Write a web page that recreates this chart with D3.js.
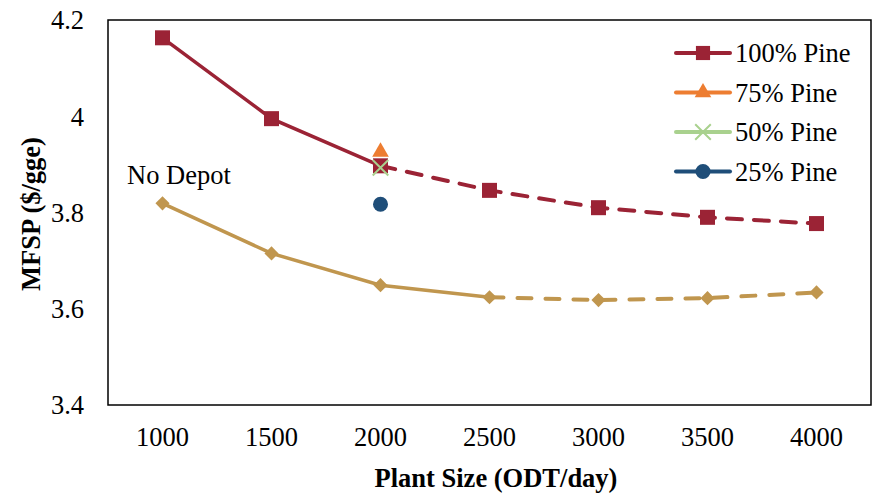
<!DOCTYPE html>
<html>
<head>
<meta charset="utf-8">
<script src="https://cdn.jsdelivr.net/npm/d3@7"></script>
<style>
  body { margin: 0; background: #fff; }
  text { font-family: "Liberation Serif", "Times New Roman", serif; fill: #000; }
</style>
</head>
<body>
<svg id="chart" width="873" height="496"></svg>
<script>
// plant sizes (ODT/day)
var sizes = ['1000', '1500', '2000', '2500', '3000', '3500', '4000']
var pine100 = [4.163, 3.995, 3.897, 3.846, 3.810, 3.790, 3.777]
var noDepot = [3.819, 3.715, 3.649, 3.624, 3.618, 3.622, 3.634]
// single blends at 2000 ODT/day
var pine75 = 3.926
var pine50 = 3.893
var pine25 = 3.817
var yTicks = [3.4, 3.6, 3.8, 4.0, 4.2]

var red = '#9b2335', gold = '#c0964e', orange = '#ed7d31', green = '#a9d18e', blue = '#1f4e79'
var fs = '26.5px'

var svg = d3.select('#chart')
var plotL = 108, plotR = 871, plotT = 20, plotB = 405

var x = d3.scaleBand().domain(sizes).range([plotL, plotR]).padding(0)
var y = d3.scaleLinear().domain([3.4, 4.2]).range([plotB, plotT])
var cx = function (s) { return x(s) + x.bandwidth() / 2 }

// frame
svg.append('rect')
  .attr('x', plotL).attr('y', plotT)
  .attr('width', plotR - plotL).attr('height', plotB - plotT)
  .attr('fill', 'none').attr('stroke', '#000').attr('stroke-width', 1.5)

// y ticks
svg.append('g').selectAll('text').data(yTicks).enter().append('text')
  .attr('x', 84).attr('y', function (d) { return y(d) })
  .attr('dy', '0.35em')
  .attr('text-anchor', 'end')
  .style('font-size', fs)
  .text(function (d) { return d === 4 ? '4' : d3.format('.1f')(d) })

// x ticks
svg.append('g').selectAll('text').data(sizes).enter().append('text')
  .attr('x', cx).attr('y', 446)
  .attr('text-anchor', 'middle')
  .style('font-size', fs)
  .text(function (d) { return d })

// axis titles
svg.append('text')
  .attr('transform', 'translate(40,214) rotate(-90)')
  .attr('text-anchor', 'middle')
  .style('font-size', fs).style('font-weight', 'bold')
  .text('MFSP ($/gge)')

svg.append('text')
  .attr('x', 496).attr('y', 487)
  .attr('text-anchor', 'middle')
  .style('font-size', fs).style('font-weight', 'bold')
  .text('Plant Size (ODT/day)')

var line = d3.line()
  .x(function (d) { return cx(d[0]) })
  .y(function (d) { return y(d[1]) })

function drawSeries(vals, color, solidTo, dash) {
  var pts = sizes.map(function (s, i) { return [s, vals[i]] })
  svg.append('path').datum(pts.slice(0, solidTo + 1))
    .attr('d', line).attr('fill', 'none')
    .attr('stroke', color).attr('stroke-width', 3.5)
  svg.append('path').datum(pts.slice(solidTo))
    .attr('d', line).attr('fill', 'none')
    .attr('stroke', color).attr('stroke-width', 4)
    .attr('stroke-dasharray', dash).attr('stroke-linecap', 'round')
  return pts
}

var redPts = drawSeries(pine100, red, 2, '15,12')
var goldPts = drawSeries(noDepot, gold, 3, '14,14')

// markers
svg.append('g').selectAll('path').data(goldPts).enter().append('path')
  .attr('d', d3.symbol().type(d3.symbolSquare).size(100))
  .attr('transform', function (d) { return 'translate(' + cx(d[0]) + ',' + y(d[1]) + ') rotate(45)' })
  .attr('fill', gold)

svg.append('g').selectAll('rect').data(redPts).enter().append('rect')
  .attr('x', function (d) { return cx(d[0]) - 7.5 })
  .attr('y', function (d) { return y(d[1]) - 7.5 })
  .attr('width', 15).attr('height', 15)
  .attr('fill', red)

svg.append('path')
  .attr('d', d3.symbol().type(d3.symbolTriangle).size(120))
  .attr('transform', 'translate(' + cx('2000') + ',' + y(pine75) + ')')
  .attr('fill', orange)

svg.append('path')
  .attr('d', d3.symbol().type(d3.symbolTimes).size(160))
  .attr('transform', 'translate(' + cx('2000') + ',' + y(pine50) + ')')
  .attr('stroke', green).attr('stroke-width', 2).attr('fill', 'none')

svg.append('circle')
  .attr('cx', cx('2000')).attr('cy', y(pine25)).attr('r', 7.5)
  .attr('fill', blue)

svg.append('text')
  .attr('x', 127).attr('y', 184)
  .style('font-size', fs)
  .text('No Depot')

// legend
var legend = [
  { name: '100% Pine', color: red, sym: d3.symbolSquare, size: 200 },
  { name: '75% Pine', color: orange, sym: d3.symbolTriangle, size: 120 },
  { name: '50% Pine', color: green, sym: d3.symbolTimes, size: 160 },
  { name: '25% Pine', color: blue, sym: d3.symbolCircle, size: 180 }
]
var lg = svg.append('g').selectAll('g').data(legend).enter().append('g')
  .attr('transform', function (d, i) { return 'translate(0,' + (53 + i * 39.5) + ')' })
lg.append('line')
  .attr('x1', 676).attr('x2', 730)
  .attr('stroke', function (d) { return d.color })
  .attr('stroke-width', 4).attr('stroke-linecap', 'round')
lg.append('path')
  .attr('d', function (d) { return d3.symbol().type(d.sym).size(d.size)() })
  .attr('transform', 'translate(703,0)')
  .attr('fill', function (d) { return d.sym === d3.symbolTimes ? 'none' : d.color })
  .attr('stroke', function (d) { return d.sym === d3.symbolTimes ? d.color : 'none' })
  .attr('stroke-width', 2)
lg.append('text')
  .attr('x', 735).attr('dy', '0.35em')
  .style('font-size', fs)
  .text(function (d) { return d.name })
</script>
</body>
</html>
